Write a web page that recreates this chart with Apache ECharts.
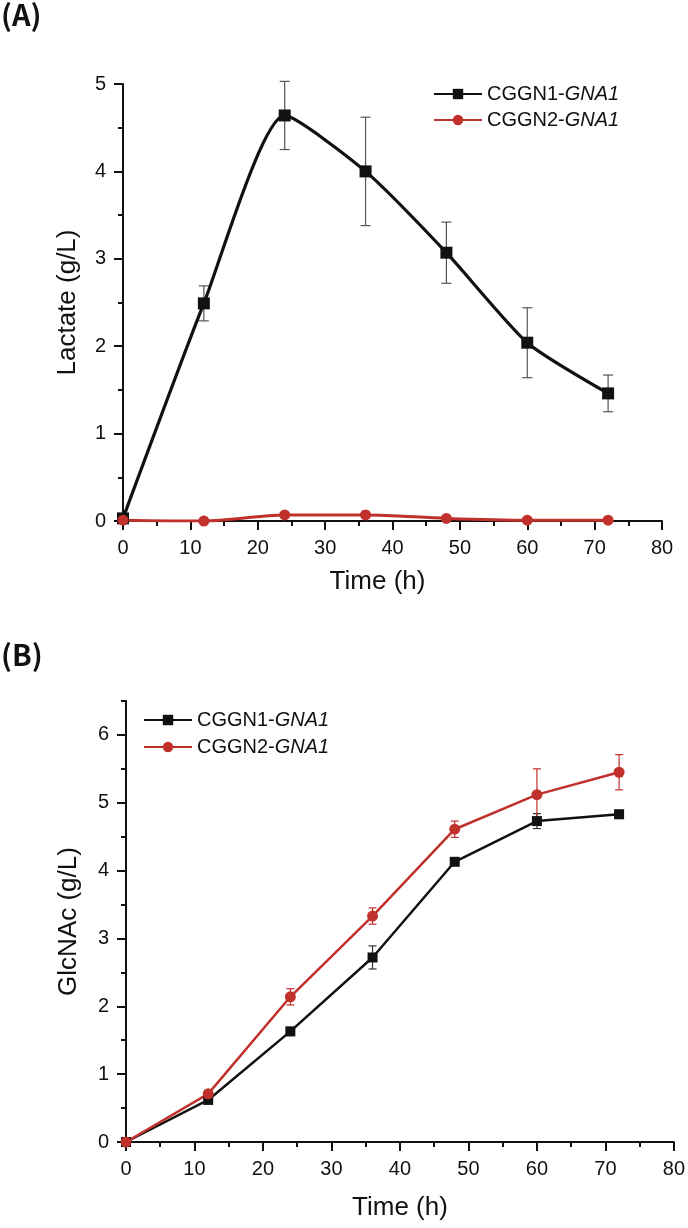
<!DOCTYPE html>
<html>
<head>
<meta charset="utf-8">
<script src="https://cdn.jsdelivr.net/npm/echarts@6/dist/echarts.min.js"></script>
<style>
  html, body { margin: 0; padding: 0; background: #fff; }
  #main { width: 688px; height: 1228px; }
</style>
</head>
<body>
<div id="main"></div>
<script>
// sampling times (h)
const hours = [0, 12, 24, 36, 48, 60, 72];

// (A) lactate, g/L
const lactateN1 = [0.03, 2.49, 4.64, 4.0, 3.07, 2.04, 1.46];
const lactateN1Err = [0, 0.2, 0.39, 0.62, 0.35, 0.4, 0.21];
const lactateN2 = [0.01, 0.0, 0.07, 0.07, 0.03, 0.01, 0.01];
const lactateN2Err = [0, 0, 0.02, 0.04, 0.01, 0, 0];

// (B) GlcNAc, g/L
const glcN1 = [0, 0.62, 1.63, 2.72, 4.13, 4.73, 4.83];
const glcN1Err = [0, 0.04, 0.06, 0.17, 0.04, 0.11, 0.06];
const glcN2 = [0, 0.71, 2.14, 3.33, 4.61, 5.12, 5.45];
const glcN2Err = [0, 0.05, 0.12, 0.12, 0.12, 0.38, 0.26];

const glcTicks = [0, 1, 2, 3, 4, 5, 6];

const names = ['CGGN1-GNA1', 'CGGN2-GNA1'];
const BLACK = '#111111';
const RED = '#c0312c';
const FONT = 'Liberation Sans';

var myChart = echarts.init(document.getElementById('main'));

function pairs(ys) {
    return hours.map((h, i) => [h, ys[i]]);
}

// 误差棒
function errorBars(idx, means, errs, color, cap) {
    return {
        type: 'custom',
        xAxisIndex: idx,
        yAxisIndex: idx === 0 ? 0 : 1,
        z: 1,
        silent: true,
        data: hours.map((h, i) => [h, means[i] - errs[i], means[i] + errs[i]]).filter((d, i) => errs[i] > 0),
        renderItem(params, api) {
            const lo = api.coord([api.value(0), api.value(1)]);
            const hi = api.coord([api.value(0), api.value(2)]);
            const style = { stroke: color, lineWidth: 1.2 };
            return {
                type: 'group',
                children: [
                    { type: 'line', shape: { x1: lo[0], y1: lo[1], x2: hi[0], y2: hi[1] }, style: style },
                    { type: 'line', shape: { x1: lo[0] - cap, y1: lo[1], x2: lo[0] + cap, y2: lo[1] }, style: style },
                    { type: 'line', shape: { x1: hi[0] - cap, y1: hi[1], x2: hi[0] + cap, y2: hi[1] }, style: style }
                ]
            };
        }
    };
}

const axisLine = { show: true, lineStyle: { color: BLACK, width: 2 } };
const axisTick = { show: true, length: 9, lineStyle: { color: BLACK, width: 2 } };
const minorTick = { show: true, splitNumber: 2, length: 5, lineStyle: { color: BLACK, width: 2 } };
const label = { color: BLACK, fontFamily: FONT, fontSize: 20 };
const nameStyle = { color: BLACK, fontFamily: FONT, fontSize: 26 };

function xAxis(gridIndex, gap, shift) {
    return {
        type: 'value', gridIndex: gridIndex, min: 0, max: 80, interval: 10,
        name: 'Time (h)', nameLocation: 'middle', nameGap: gap,
        nameTextStyle: Object.assign({ padding: [0, shift, 0, 0] }, nameStyle),
        axisLine: axisLine, axisTick: axisTick, minorTick: minorTick,
        axisLabel: Object.assign({ margin: 17 }, label),
        splitLine: { show: false }
    };
}

const legendText = {
    color: BLACK, fontFamily: FONT, fontSize: 20,
    rich: {
        n: { color: BLACK, fontFamily: FONT, fontSize: 20 },
        i: { color: BLACK, fontFamily: FONT, fontSize: 20, fontStyle: 'italic' }
    }
};
function legendFormatter(name) {
    return '{n|' + name.replace('GNA1', '') + '}{i|GNA1}';
}

var option = {
    animation: false,
    backgroundColor: '#fff',
    graphic: [
        { type: 'text', left: 1, top: 0, style: { text: '(A)', fontFamily: 'Noto Sans CJK SC', fontSize: 29, fontWeight: 'bold', fill: BLACK } },
        { type: 'text', left: 1, top: 640, style: { text: '(B)', fontFamily: 'Noto Sans CJK SC', fontSize: 29, fontWeight: 'bold', fill: BLACK } }
    ],
    legend: [
        {
            orient: 'vertical', left: 428, top: 79, itemWidth: 48, itemHeight: 13, itemGap: 6,
            data: names, textStyle: legendText, formatter: legendFormatter
        },
        {
            orient: 'vertical', left: 138, top: 705, itemWidth: 48, itemHeight: 13, itemGap: 7,
            data: names, textStyle: legendText, formatter: legendFormatter
        }
    ],
    grid: [
        { left: 123, right: 26, top: 84, bottom: 707 },
        { left: 126, right: 14, top: 701, bottom: 86 }
    ],
    xAxis: [xAxis(0, 48, 30), xAxis(1, 53, 0)],
    yAxis: [
        {
            type: 'value', gridIndex: 0, min: 0, max: 5, interval: 1,
            name: 'Lactate (g/L)', nameLocation: 'middle', nameGap: 42, nameTextStyle: nameStyle,
            axisLine: axisLine, axisTick: axisTick, minorTick: minorTick,
            axisLabel: Object.assign({ margin: 17 }, label),
            splitLine: { show: false }
        },
        {
            type: 'value', gridIndex: 1, min: 0, max: 6.5, interval: 1,
            name: 'GlcNAc (g/L)', nameLocation: 'middle', nameGap: 44, nameTextStyle: nameStyle,
            axisLine: axisLine,
            axisTick: Object.assign({ customValues: glcTicks }, axisTick),
            axisLabel: Object.assign({ margin: 17, customValues: glcTicks }, label),
            splitLine: { show: false }
        },
        {
            // 半格小刻度
            type: 'value', gridIndex: 1, position: 'left', min: 0, max: 6.5, interval: 0.5,
            axisLine: { show: false }, axisLabel: { show: false },
            axisTick: { show: true, length: 5, lineStyle: { color: BLACK, width: 2 } },
            splitLine: { show: false }
        }
    ],
    series: [
        errorBars(0, lactateN1, lactateN1Err, '#555555', 5),
        errorBars(0, lactateN2, lactateN2Err, RED, 4),
        {
            name: names[0], type: 'line', xAxisIndex: 0, yAxisIndex: 0, smooth: 0.2,
            data: pairs(lactateN1), symbol: 'rect', symbolSize: 12, z: 3,
            itemStyle: { color: BLACK }, lineStyle: { color: BLACK, width: 3.2 }
        },
        {
            name: names[1], type: 'line', xAxisIndex: 0, yAxisIndex: 0, smooth: 0.3,
            data: pairs(lactateN2), symbol: 'circle', symbolSize: 11, z: 3,
            itemStyle: { color: RED }, lineStyle: { color: RED, width: 3 }
        },
        errorBars(1, glcN1, glcN1Err, '#333333', 4),
        errorBars(1, glcN2, glcN2Err, RED, 4),
        {
            name: names[0], type: 'line', xAxisIndex: 1, yAxisIndex: 1,
            data: pairs(glcN1), symbol: 'rect', symbolSize: 10, z: 3,
            itemStyle: { color: BLACK }, lineStyle: { color: BLACK, width: 2.5 }
        },
        {
            name: names[1], type: 'line', xAxisIndex: 1, yAxisIndex: 1,
            data: pairs(glcN2), symbol: 'circle', symbolSize: 11, z: 3,
            itemStyle: { color: RED }, lineStyle: { color: RED, width: 2.5 }
        }
    ]
};

myChart.setOption(option);
</script>
</body>
</html>
